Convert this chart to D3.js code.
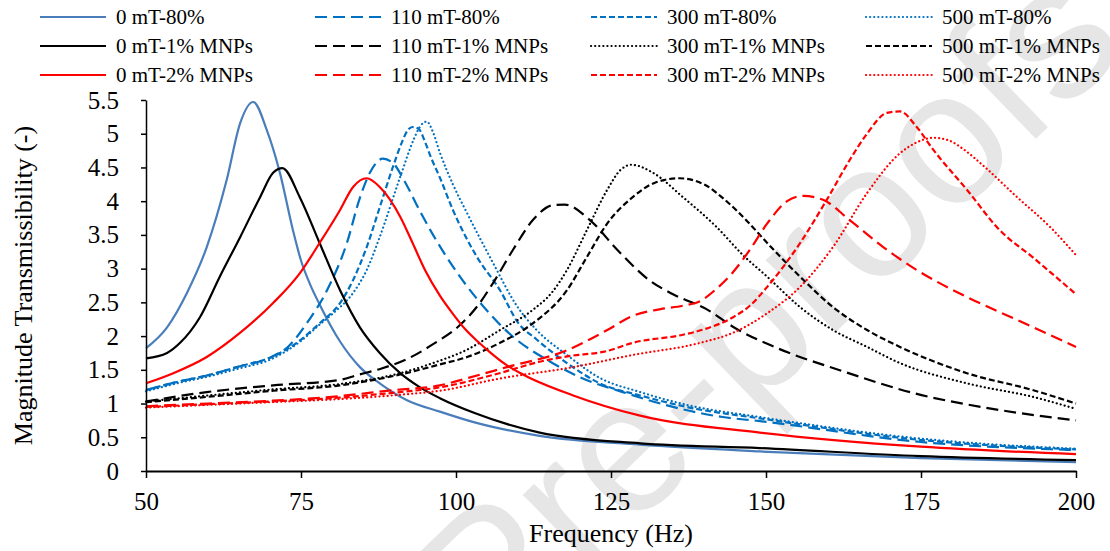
<!DOCTYPE html>
<html>
<head>
<meta charset="utf-8">
<script src="https://d3js.org/d3.v7.min.js"></script>
<style>
body { margin: 0; background: #fff; }
svg text { font-family: "Liberation Serif", "Times New Roman", serif; }
</style>
</head>
<body>
<svg id="chart" width="1110" height="551"></svg>
<script>
// frequency (Hz), magnitude transmissibility
const b0_80 = [[50,1.82],[53.4,2.13],[56.6,2.64],[59.8,3.32],[63,4.31],[65.2,5.16],[67.3,5.47],[69.5,5.05],[71.6,4.42],[73.7,3.57],[75,3.12],[76.5,2.76],[78,2.47],[81.3,1.92],[84.5,1.54],[87.7,1.3],[92.1,1.05],[97.4,0.88],[103,0.72],[113.5,0.52],[129.7,0.39],[149,0.29],[175,0.19],[200,0.13]];
const k0_1 = [[50,1.67],[53.4,1.75],[55.5,1.9],[58.7,2.28],[61.9,2.88],[65.2,3.47],[68.4,4.06],[70.5,4.42],[72,4.49],[74.8,4.06],[78,3.38],[81.3,2.68],[84.5,2.13],[87.7,1.75],[91,1.45],[94.2,1.24],[97.4,1.08],[103,0.86],[113.5,0.57],[129.7,0.41],[149,0.34],[175,0.22],[200,0.16]];
const r0_2 = [[50,1.3],[54.4,1.45],[59.8,1.69],[65.2,2.05],[70.5,2.49],[74.8,2.93],[78,3.38],[81.3,3.87],[83.4,4.21],[85.6,4.34],[87.7,4.21],[91,3.77],[93,3.38],[95,2.98],[97.4,2.6],[99.5,2.33],[101.5,2.1],[103.5,1.92],[105.5,1.76],[108,1.58],[110.8,1.43],[118.9,1.12],[129.7,0.82],[149,0.57],[175,0.36],[200,0.25]];
const b110_80 = [[50,1.2],[55,1.32],[60,1.42],[65,1.55],[70,1.68],[73,1.85],[76,2.2],[79.2,2.68],[82.4,3.38],[84.5,4.05],[86.1,4.42],[88.2,4.63],[90,4.55],[91.5,4.33],[94.2,3.85],[96.3,3.5],[99,3.1],[103.4,2.55],[109.2,1.99],[115.2,1.62],[120,1.39],[126.9,1.17],[135,0.95],[143,0.8],[149,0.74],[175,0.43],[200,0.31]];
const b300_80 = [[50,1.2],[55,1.32],[60,1.42],[65,1.55],[70,1.68],[74.3,1.9],[78,2.19],[81.3,2.49],[83.4,2.83],[85.6,3.32],[87.7,3.91],[89.8,4.5],[91.3,4.88],[92.2,5.05],[93,5.1],[94,5.07],[95,4.88],[96,4.64],[97.4,4.35],[99.5,3.87],[103.4,3.17],[107.1,2.68],[110,2.2],[113,1.95],[117.9,1.6],[123.2,1.3],[129.7,1.12],[137.7,0.94],[149,0.78],[175,0.46],[200,0.32]];
const b500_80 = [[50,1.18],[55,1.3],[60,1.4],[65,1.52],[70,1.65],[75,1.93],[78,2.17],[80.2,2.34],[83.4,2.64],[85.6,2.98],[87.7,3.47],[91,4.36],[93.2,4.92],[94.3,5.12],[95.3,5.18],[96.3,5.02],[97.4,4.72],[99.5,4.25],[101.8,3.82],[106,3.08],[109.8,2.45],[113,2.09],[117.9,1.72],[123.2,1.38],[129.7,1.17],[137.7,0.97],[149,0.8],[175,0.48],[200,0.33]];
const k110_1 = [[50,1.03],[59.8,1.17],[70.5,1.27],[81.3,1.35],[84,1.42],[88,1.52],[92.1,1.66],[96.3,1.88],[100.6,2.16],[103.5,2.45],[106,2.79],[109.2,3.28],[112.4,3.72],[115.6,3.94],[117.5,3.95],[121.6,3.72],[126,3.28],[131.3,2.82],[135,2.62],[140.4,2.4],[145,2.12],[151.6,1.83],[162.7,1.47],[174,1.15],[185.3,0.94],[200,0.75]];
const k300_1 = [[50,1.03],[60,1.12],[70.5,1.21],[81.3,1.29],[91,1.45],[96.3,1.6],[101.8,1.8],[107.1,2.09],[112.4,2.39],[115.5,2.65],[117.9,2.98],[121.1,3.57],[124.4,4.17],[126.5,4.46],[128.3,4.54],[131.8,4.42],[136.6,4.06],[142,3.62],[146.3,3.2],[150.2,2.88],[155.5,2.43],[160.8,2.09],[166.3,1.84],[171.6,1.6],[182.4,1.3],[193,1.1],[200,0.92]];
const k500_1 = [[50,1.02],[60,1.1],[70.5,1.19],[81.3,1.27],[91,1.43],[97.4,1.58],[101.8,1.69],[107.1,1.9],[112.4,2.19],[117.9,2.68],[121.1,3.17],[124.4,3.67],[128.5,4.06],[132,4.27],[136,4.34],[140,4.25],[143,4.05],[147,3.7],[150.2,3.38],[155.5,2.88],[160.8,2.43],[166.3,2.09],[171.6,1.84],[182.4,1.45],[193,1.2],[200,1.0]];
const r110_2 = [[50,0.96],[60,1.0],[70,1.04],[80,1.1],[90,1.2],[97.4,1.27],[102,1.38],[108.2,1.54],[117.9,1.79],[124.4,2.09],[128.5,2.3],[133,2.4],[136.6,2.45],[139.4,2.52],[142,2.7],[144.7,2.95],[147.4,3.28],[150.2,3.67],[153.4,4.0],[156,4.08],[159.2,4.02],[163.5,3.72],[168.9,3.32],[174.3,2.98],[182.4,2.58],[190.5,2.24],[200,1.84]];
const r300_2 = [[50,0.95],[60,0.99],[70,1.03],[80,1.08],[91,1.17],[97.4,1.24],[107,1.45],[113.5,1.62],[118,1.7],[124.4,1.78],[128.5,1.9],[136.6,2.02],[140,2.1],[144.7,2.28],[147.4,2.45],[150.2,2.73],[155.5,3.38],[159.8,4.02],[163.5,4.61],[166.3,5.0],[169.5,5.31],[171.6,5.33],[174.3,5.1],[177,4.76],[182.4,4.17],[187.7,3.57],[193,3.17],[200,2.62]];
const r500_2 = [[50,0.94],[60,0.98],[70,1.02],[80,1.06],[91,1.13],[97.4,1.19],[107,1.37],[118.9,1.54],[128.5,1.72],[139.4,1.9],[144.7,2.05],[150.2,2.34],[155.5,2.73],[160.8,3.32],[166.3,4.12],[171.6,4.71],[174.5,4.88],[177,4.94],[179.5,4.9],[182,4.76],[185,4.53],[190.5,4.06],[195.8,3.62],[200,3.2]];

const xTicks = [50, 75, 100, 125, 150, 175, 200];
const yTicks = [0, 0.5, 1, 1.5, 2, 2.5, 3, 3.5, 4, 4.5, 5, 5.5];

const LONG = "12,6", SHORT = "6,3", DOT = "0.1,4";
// legend is read row by row, 4 columns
const series = [
  {name: "0 mT-80%",        data: b0_80,   color: "#4A7EBB", dash: null},
  {name: "110 mT-80%",      data: b110_80, color: "#0070C0", dash: LONG},
  {name: "300 mT-80%",      data: b300_80, color: "#0070C0", dash: SHORT},
  {name: "500 mT-80%",      data: b500_80, color: "#0070C0", dash: DOT},
  {name: "0 mT-1% MNPs",    data: k0_1,    color: "#000000", dash: null},
  {name: "110 mT-1% MNPs",  data: k110_1,  color: "#000000", dash: LONG},
  {name: "300 mT-1% MNPs",  data: k300_1,  color: "#000000", dash: DOT},
  {name: "500 mT-1% MNPs",  data: k500_1,  color: "#000000", dash: SHORT},
  {name: "0 mT-2% MNPs",    data: r0_2,    color: "#FF0000", dash: null},
  {name: "110 mT-2% MNPs",  data: r110_2,  color: "#FF0000", dash: LONG},
  {name: "300 mT-2% MNPs",  data: r300_2,  color: "#FF0000", dash: SHORT},
  {name: "500 mT-2% MNPs",  data: r500_2,  color: "#FF0000", dash: DOT}
];

const svg = d3.select("#chart");
const pLeft = 146, pRight = 1076, pTop = 100, pBottom = 471;

const x = d3.scaleLinear().domain([50, 200]).range([pLeft, pRight]);
const y = d3.scaleLinear().domain([0, 5.5]).range([pBottom, pTop]);

// watermark behind the plot
svg.append("text")
  .attr("transform", "translate(492,664) rotate(-44)")
  .style("font-family", "'Liberation Sans', Arial, sans-serif")
  .style("font-size", "190px")
  .attr("fill", "#e6e6e6")
  .text("Pre-proofs");

const line = d3.line()
  .x(d => x(d[0]))
  .y(d => y(d[1]))
  .curve(d3.curveMonotoneX);

svg.append("g").selectAll("path")
  .data(series)
  .enter().append("path")
  .attr("d", d => line(d.data))
  .attr("fill", "none")
  .attr("stroke", d => d.color)
  .attr("stroke-width", 2.2)
  .attr("stroke-linecap", d => d.dash === DOT ? "round" : "butt")
  .attr("stroke-dasharray", d => d.dash);

const yAxis = d3.axisLeft(y).tickValues(yTicks).tickFormat(d3.format("~g"))
  .tickSize(5).tickSizeOuter(0).tickPadding(22);
const gy = svg.append("g").attr("transform", "translate(" + pLeft + ",0)").call(yAxis);
gy.selectAll("text").style("font-size", "25px").attr("fill", "#000");
gy.selectAll("line, path").attr("stroke", "#000").attr("stroke-width", 1.5);

const xAxis = d3.axisBottom(x).tickValues(xTicks).tickSize(7).tickSizeOuter(0).tickPadding(14);
const gx = svg.append("g").attr("transform", "translate(0," + pBottom + ")").call(xAxis);
gx.selectAll("text").style("font-size", "25px").attr("fill", "#000");
gx.selectAll("line").attr("stroke", "#000").attr("stroke-width", 1.5);
gx.select("path").attr("stroke", "#000").attr("stroke-width", 2.2);

svg.append("text")
  .attr("x", (pLeft + pRight) / 2).attr("y", 542)
  .attr("text-anchor", "middle")
  .style("font-size", "26px")
  .text("Frequency (Hz)");

svg.append("text")
  .attr("transform", "translate(32," + ((pTop + pBottom) / 2) + ") rotate(-90)")
  .attr("text-anchor", "middle")
  .style("font-size", "26px")
  .text("Magnitude Transmissibility (-)");

// legend
const colX = [40, 315, 591, 866];
const rowY = [17, 46, 75];
const leg = svg.append("g").selectAll("g")
  .data(series)
  .enter().append("g")
  .attr("transform", (d, i) => "translate(" + colX[i % 4] + "," + rowY[Math.floor(i / 4)] + ")");
leg.append("line")
  .attr("x1", 0).attr("x2", 66).attr("y1", 0).attr("y2", 0)
  .attr("stroke", d => d.color)
  .attr("stroke-width", 2.2)
  .attr("stroke-linecap", d => d.dash === DOT ? "round" : "butt")
  .attr("stroke-dasharray", d => d.dash);
leg.append("text")
  .attr("x", 76).attr("y", 7)
  .style("font-size", "21px")
  .text(d => d.name);
</script>
</body>
</html>
